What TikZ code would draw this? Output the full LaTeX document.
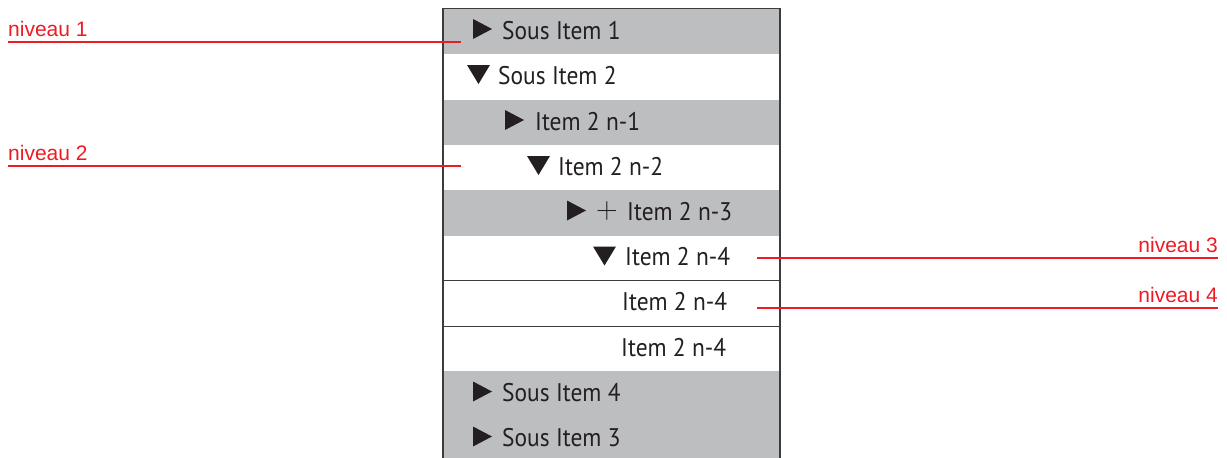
\documentclass[tikz,border=0pt]{standalone}
\usepackage{fontspec}
\newfontfamily\itemfont[FakeStretch=0.92]{PT Sans}
\newfontfamily\notefont{Liberation Sans}
\definecolor{rowgray}{RGB}{188,190,192}
\definecolor{ink}{RGB}{35,31,32}
\definecolor{notered}{RGB}{237,28,36}
\definecolor{framegray}{RGB}{60,60,60}
% expand/collapse markers, placed by their left edge and the text baseline
\newcommand\triright[2]{\fill[ink] ({#1},{#2}) -- ++(0,-20) -- ++(19,10) -- cycle;}
\newcommand\tridown[2]{\fill[ink] ({#1},{#2-19}) -- ++(23,0) -- ++(-11.5,19) -- cycle;}
\begin{document}
\begin{tikzpicture}[x=1pt,y=-1pt,
  itemtext/.style={anchor=base west, inner sep=0pt,
    font=\itemfont\fontsize{25.5}{25.5}\selectfont, text=ink},
  plustext/.style={anchor=base west, inner sep=0pt,
    font=\rmfamily\fontsize{30}{30}\selectfont, text=ink},
  notetext/.style={inner sep=0pt,
    font=\notefont\fontsize{21}{21}\selectfont, text=notered},
  noteline/.style={draw=notered, line width=2pt},
  rowfill/.style={fill=rowgray},
  sepline/.style={draw=framegray, line width=1.2pt},
  frameline/.style={draw=framegray, line width=1.3pt}]
\useasboundingbox (0,0) rectangle (1227,458);

% shaded rows of the tree list
\fill[rowfill] (443,9) rectangle (780,54.3);
\fill[rowfill] (443,99.6) rectangle (780,144.9);
\fill[rowfill] (443,190.2) rectangle (780,235.5);
\fill[rowfill] (443,371.4) rectangle (780,458);

% separators between the leaf rows
\draw[sepline] (443,280.8) -- (780,280.8);
\draw[sepline] (443,326.1) -- (780,326.1);

% list frame (open at the bottom)
\draw[frameline] (443,458) -- (443,8.5) -- (780,8.5) -- (780,458);

% entries
\triright{473}{39}
\node[itemtext] (r1) at (502,39) {Sous Item 1};
\tridown{467}{84}
\node[itemtext] (r2) at (498,84) {Sous Item 2};
\triright{505}{130}
\node[itemtext] (r3) at (535,130) {Item 2 n-1};
\tridown{527}{175}
\node[itemtext] (r4) at (558,175) {Item 2 n-2};
\triright{567}{220.5}
\node[plustext] (r5p) at (596,218.5) {+};
\node[itemtext] (r5) at (627,220.5) {Item 2 n-3};
\tridown{593}{265.5}
\node[itemtext] (r6) at (625,265.5) {Item 2 n-4};
\node[itemtext] (r7) at (622,310.5) {Item 2 n-4};
\node[itemtext] (r8) at (621,356) {Item 2 n-4};
\triright{473}{401.5}
\node[itemtext] (r9) at (502,401.5) {Sous Item 4};
\triright{473}{446.5}
\node[itemtext] (r10) at (502,446.5) {Sous Item 3};

% level annotations
\node[notetext, anchor=base west] (n1) at (8,36) {niveau 1};
\coordinate (n1a) at (8,42);
\coordinate (n1b) at (461,42);
\draw[noteline] (n1a) -- (n1b);

\node[notetext, anchor=base west] (n2) at (8,160) {niveau 2};
\coordinate (n2a) at (8,166);
\coordinate (n2b) at (461,166);
\draw[noteline] (n2a) -- (n2b);

\node[notetext, anchor=base east] (n3) at (1218,252.3) {niveau 3};
\coordinate (n3a) at (757,258);
\coordinate (n3b) at (1218,258);
\draw[noteline] (n3a) -- (n3b);

\node[notetext, anchor=base east] (n4) at (1218,302.3) {niveau 4};
\coordinate (n4a) at (757,308);
\coordinate (n4b) at (1218,308);
\draw[noteline] (n4a) -- (n4b);
\end{tikzpicture}
\end{document}
